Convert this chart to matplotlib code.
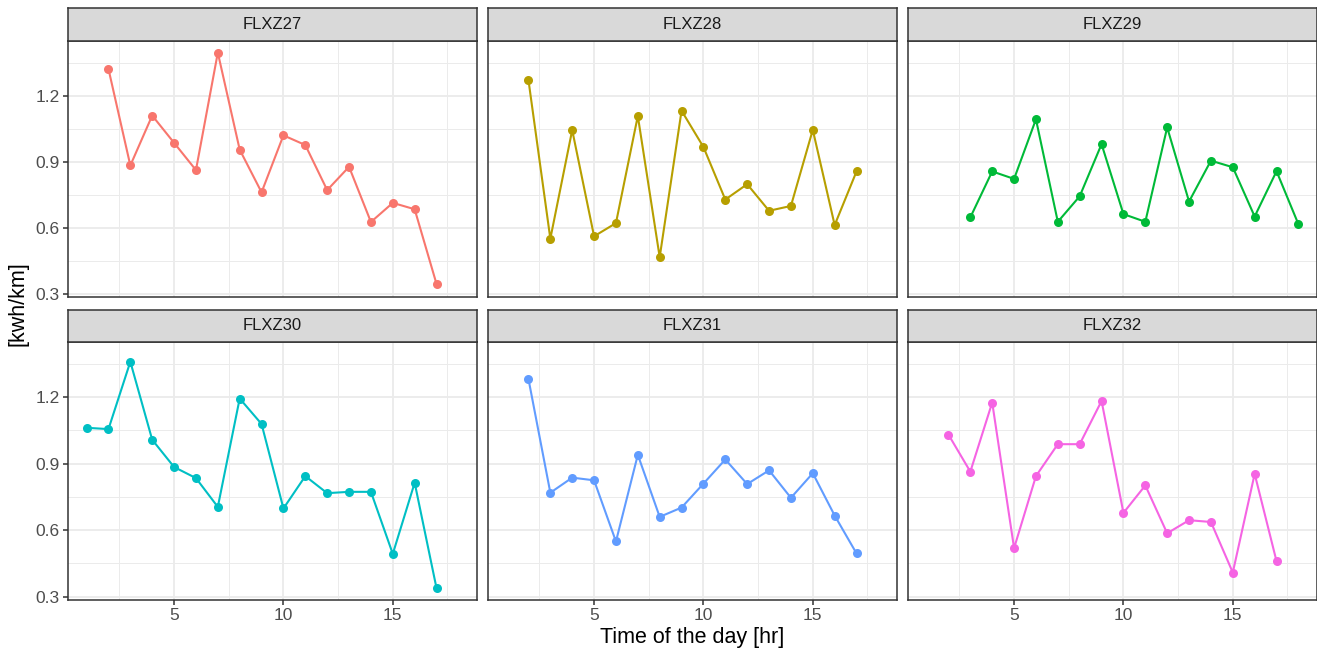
import numpy as np
import matplotlib
matplotlib.use("Agg")
import matplotlib.pyplot as plt
from matplotlib.ticker import MultipleLocator

plt.rcParams["font.family"] = ["Liberation Sans", "DejaVu Sans"]

# energy use per vehicle, by hour of day
vehicles = ["FLXZ27", "FLXZ28", "FLXZ29", "FLXZ30", "FLXZ31", "FLXZ32"]
colors = ["#F8766D", "#B79F00", "#00BA38", "#00BFC4", "#619CFF", "#F564E3"]

hours_27 = list(range(2, 18))
kwh_27 = [1.322, 0.883, 1.110, 0.986, 0.862, 1.396, 0.955, 0.761, 1.020, 0.976,
          0.771, 0.877, 0.626, 0.713, 0.684, 0.344]
hours_28 = list(range(2, 18))
kwh_28 = [1.271, 0.550, 1.044, 0.561, 0.621, 1.108, 0.466, 1.132, 0.967, 0.728,
          0.798, 0.677, 0.699, 1.045, 0.612, 0.856]
hours_29 = list(range(3, 19))
kwh_29 = [0.647, 0.856, 0.822, 1.093, 0.627, 0.743, 0.980, 0.662, 0.627, 1.056,
          0.719, 0.905, 0.875, 0.651, 0.857, 0.616]
hours_30 = list(range(1, 18))
kwh_30 = [1.062, 1.056, 1.360, 1.008, 0.885, 0.835, 0.705, 1.194, 1.079, 0.698,
          0.844, 0.767, 0.773, 0.773, 0.493, 0.814, 0.338]
hours_31 = list(range(2, 18))
kwh_31 = [1.282, 0.769, 0.837, 0.825, 0.549, 0.940, 0.660, 0.702, 0.810, 0.919,
          0.808, 0.870, 0.746, 0.857, 0.666, 0.495]
hours_32 = list(range(2, 18))
kwh_32 = [1.031, 0.864, 1.176, 0.519, 0.844, 0.988, 0.988, 1.183, 0.678, 0.802,
          0.586, 0.645, 0.637, 0.409, 0.854, 0.460]

series = [(hours_27, kwh_27), (hours_28, kwh_28), (hours_29, kwh_29),
          (hours_30, kwh_30), (hours_31, kwh_31), (hours_32, kwh_32)]

W, H = 1317, 653
fig = plt.figure(figsize=(W / 100, H / 100), dpi=100)

lefts = [68, 488, 908]
pw = 409
rows = [(8, 41, 297), (310, 342, 600)]  # strip top, panel top, panel bottom

for i, (name, col, (hx, hy)) in enumerate(zip(vehicles, colors, series)):
    r, c = divmod(i, 3)
    st, pt, pb = rows[r]
    x0 = lefts[c]
    ax = fig.add_axes([x0 / W, 1 - pb / H, pw / W, (pb - pt) / H])
    sx = fig.add_axes([x0 / W, 1 - pt / H, pw / W, (pt - st) / H])

    ax.plot(hx, hy, color=col, lw=1.5, zorder=3)
    ax.plot(hx, hy, "o", color=col, ms=6.5, mec="none", zorder=4)

    ax.set_xlim(0.15, 18.85)
    ax.set_ylim(0.285, 1.449)
    ax.xaxis.set_major_locator(MultipleLocator(5))
    ax.xaxis.set_minor_locator(MultipleLocator(2.5))
    ax.set_yticks([0.3, 0.6, 0.9, 1.2])
    ax.set_yticks([0.45, 0.75, 1.05, 1.35], minor=True)
    ax.grid(True, which="major", color="#EBEBEB", lw=1.3, zorder=0)
    ax.grid(True, which="minor", color="#EBEBEB", lw=0.7, zorder=0)
    ax.set_axisbelow(True)
    for s in ax.spines.values():
        s.set_color("#333333")
        s.set_linewidth(1.1)
    ax.tick_params(which="minor", length=0)
    ax.tick_params(which="major", length=3.4, width=1.1, color="#333333",
                   labelsize=12.5, labelcolor="#4D4D4D", pad=2.5)
    if c != 0:
        ax.tick_params(axis="y", left=False, labelleft=False)
    else:
        ax.set_yticklabels(["0.3", "0.6", "0.9", "1.2"])
    if r == 0:
        ax.tick_params(axis="x", bottom=False, labelbottom=False)

    sx.set_facecolor("#D9D9D9")
    sx.set_xticks([])
    sx.set_yticks([])
    for s in sx.spines.values():
        s.set_color("#333333")
        s.set_linewidth(1.1)
    sx.text(0.5, 0.5, name, ha="center", va="center", fontsize=12,
            color="#1A1A1A", transform=sx.transAxes)

fig.text(692 / W, 1 - 638 / H, "Time of the day [hr]", ha="center", va="center",
         fontsize=15.5)
fig.text(18 / W, 1 - 304 / H, "[kwh/km]", ha="center", va="center",
         rotation=90, fontsize=15.5)

fig.savefig("out.png", dpi=100)
